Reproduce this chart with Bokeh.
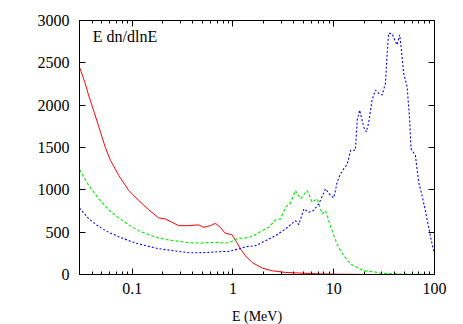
from bokeh.plotting import figure
from bokeh.models import (Range1d, FixedTicker, LogAxis, LinearAxis, Label)
from bokeh.embed import file_html
from bokeh.resources import INLINE

# ---- data ----
E_red = [0.030, 0.034, 0.0371, 0.042, 0.0466, 0.0543, 0.0609, 0.0736, 0.0924, 0.116,
         0.146, 0.183, 0.213, 0.248, 0.289, 0.363, 0.456, 0.512, 0.597, 0.669,
         0.749, 0.84, 0.976, 1.09, 1.19, 1.33, 1.55, 1.95, 2.45, 3.32,
         4.87, 7.0, 10.0, 20.0, 50.0, 100.0]
V_red = [2450, 2265, 2110, 1915, 1745, 1495, 1348, 1170, 993, 874,
         764, 669, 657, 617, 577, 577, 586, 557, 577, 605,
         557, 486, 471, 380, 301, 222, 142, 76, 44, 24,
         16, 8, 4, 1, 0, 0]

E_green = [0.030, 0.0371, 0.0466, 0.0585, 0.0736, 0.0924, 0.116, 0.146, 0.183, 0.230,
           0.289, 0.363, 0.456, 0.573, 0.72, 0.84, 0.976, 1.14, 1.24, 1.44,
           1.68, 1.95, 2.27, 2.65, 2.97, 3.32, 3.72, 4.17, 4.68, 5.46,
           6.11, 6.85, 7.68, 8.29, 9.30, 10.0, 10.8, 11.7, 12.6, 14.7,
           17.1, 19.8, 25.0, 29.0, 40.0, 60.0, 100.0]
V_green = [1240, 1052, 894, 764, 669, 586, 518, 471, 432, 408,
           392, 376, 372, 376, 380, 368, 392, 432, 427, 439,
           471, 518, 557, 645, 657, 795, 842, 993, 894, 993,
           854, 894, 716, 755, 570, 460, 360, 281, 222, 123,
           83, 44, 32, 16, 8, 3, 0]

E_blue = [0.030, 0.0371, 0.0466, 0.0585, 0.0736, 0.0924, 0.116, 0.146, 0.183, 0.230,
          0.289, 0.363, 0.456, 0.573, 0.72, 0.906, 1.14, 1.33, 1.68, 2.11,
          2.65, 3.32, 4.17, 4.50, 5.05, 5.66, 6.30, 7.11, 8.29, 9.30,
          9.98, 10.4, 10.8, 11.7, 12.6, 13.6, 14.7, 16.4, 17.1, 18.1,
          19.1, 19.8, 21.1, 22.3, 24.0, 25.9, 28.0, 30.2, 32.6, 33.9,
          35.1, 38.0, 40.9, 42.6, 45.1, 46.6, 49.4, 53.5, 56.4, 58.5,
          64.6, 69.7, 75.2, 81.1, 87.5, 94.6, 100.0]
V_blue = [785, 657, 566, 498, 447, 400, 360, 332, 305, 289,
          273, 257, 257, 261, 269, 273, 301, 328, 340, 400,
          459, 538, 637, 589, 775, 735, 755, 835, 1012, 933,
          906, 993, 1091, 1190, 1250, 1301, 1467, 1467, 1823, 1941,
          1823, 1743, 1684, 1802, 2060, 2178, 2139, 2119, 2257, 2613,
          2851, 2842, 2751, 2712, 2831, 2692, 2376, 2218, 1862, 1487,
          1408, 1091, 933, 755, 557, 360, 242]

x_major = [0.1, 1, 10, 100]
x_major_labels = ["0.1", "1", "10", "100"]
x_minor = [m * d for d in (0.01, 0.1, 1, 10) for m in range(2, 10) if m * d >= 0.03]
y_major = [0, 500, 1000, 1500, 2000, 2500, 3000]

title_text = "E dn/dlnE"
x_label = "E (MeV)"

FONT = "Liberation Serif"

p = figure(x_axis_type="log", x_range=Range1d(0.03, 100), y_range=Range1d(0, 3000),
           frame_width=355, frame_height=254,
           min_border_left=79, min_border_right=20, min_border_top=20, min_border_bottom=48,
           output_backend="svg", toolbar_location=None)
p.grid.visible = False
p.outline_line_color = "black"
p.outline_line_width = 1

p.line(E_red, V_red, line_color="#ff0000", line_width=1)
p.line(E_green, V_green, line_color="#00ee00", line_width=1.1, line_dash="3 2")
p.line(E_blue, V_blue, line_color="#0000ff", line_width=1.1, line_dash="2 2")


def style(ax, labels=True):
    ax.axis_line_color = "black"
    ax.major_tick_in = 6
    ax.major_tick_out = 0
    ax.minor_tick_in = 3
    ax.minor_tick_out = 0
    ax.major_tick_line_color = "black"
    ax.minor_tick_line_color = "black"
    ax.major_label_text_font = FONT
    ax.major_label_text_color = "black"
    if labels:
        ax.major_label_text_font_size = "16px"
    else:
        ax.major_label_text_font_size = "1px"
        ax.major_label_text_alpha = 0
        ax.major_label_standoff = 0


xb = p.xaxis[0]
xb.ticker = FixedTicker(ticks=x_major, minor_ticks=x_minor)
style(xb)
xb.major_label_overrides = dict(zip(x_major, x_major_labels))
xb.major_label_standoff = 8
xb.axis_label = x_label
xb.axis_label_text_font = FONT
xb.axis_label_text_font_size = "14px"
xb.axis_label_text_font_style = "normal"
xb.axis_label_text_color = "black"
xb.axis_label_standoff = 12

yl = p.yaxis[0]
yl.ticker = FixedTicker(ticks=y_major, minor_ticks=[])
style(yl)
yl.major_label_standoff = 10

xt = LogAxis(ticker=FixedTicker(ticks=x_major, minor_ticks=x_minor))
style(xt, labels=False)
p.add_layout(xt, "above")

yr = LinearAxis(ticker=FixedTicker(ticks=y_major, minor_ticks=[]))
style(yr, labels=False)
p.add_layout(yr, "right")

p.add_layout(Label(x=0.0406, y=2810, text=title_text, text_font=FONT,
                   text_font_size="16px", text_baseline="middle", text_color="black"))

open("out.html", "w").write(file_html(p, INLINE))
